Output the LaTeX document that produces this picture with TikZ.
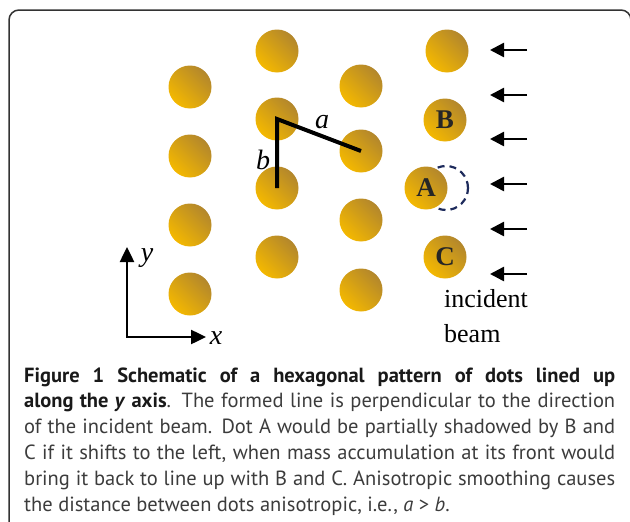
\documentclass[tikz,border=0pt]{standalone}
\usepackage{fontspec}
\setmainfont{Liberation Serif}
\newfontfamily\capfont{PT Sans}
\usetikzlibrary{arrows.meta}
\definecolor{dotlight}{HTML}{F4B800}
\definecolor{dotdark}{HTML}{B3872C}
\definecolor{shadowblue}{HTML}{1E2B5C}
\definecolor{frameline}{HTML}{333333}
\definecolor{captext}{HTML}{3C3C3C}
\begin{document}
\begin{tikzpicture}[x=1pt, y=-1pt,
    dot/.style={circle, minimum size=43pt, inner sep=0pt, top color=dotdark, bottom color=dotlight, shading angle=-45, text=black!85, font=\fontsize{27}{27}\selectfont\bfseries},
    beam/.style={-{Triangle[length=14pt, width=14pt]}, line width=2.5pt},
    lbl/.style={inner sep=0pt, font=\fontsize{28}{28}\selectfont\itshape}]
  \useasboundingbox (0,0) rectangle (630,522);
  \draw[frameline, line width=1.5pt, rounded corners=10pt] (9,540) -- (9,10) -- (631,10) -- (631,540);
  % left three columns of dots
  \node[dot] (c1r1) at (190,87) {};
  \node[dot] (c1r2) at (190,156) {};
  \node[dot] (c1r3) at (190,225) {};
  \node[dot] (c1r4) at (190,294) {};
  \node[dot] (c2r1) at (277,51) {};
  \node[dot] (c2r2) at (277,119) {};
  \node[dot] (c2r3) at (277,188) {};
  \node[dot] (c2r4) at (277,257) {};
  \node[dot] (c3r1) at (361,86) {};
  \node[dot] (c3r2) at (361,151) {};
  \node[dot] (c3r3) at (361,220) {};
  \node[dot] (c3r4) at (361,290) {};
  % front line
  \node[circle, minimum size=44pt, draw=shadowblue, line width=2.2pt, dash pattern=on 7pt off 5pt] (old) at (446,188) {};
  \node[dot] (top) at (447,51) {};
  \node[dot] (B) at (445,120) {B};
  \node[dot] (A) at (426,188) {A};
  \node[dot] (C) at (445,257) {C};
  % distances
  \draw[line width=4pt] (c2r3.center) -- (c2r2.center) -- (c3r2.center);
  \node[lbl] (la) at (322,122) {a};
  \node[lbl] (lb) at (263,160) {b};
  % incident beam
  \foreach \yy [count=\k] in {50,95,139,184,229,274} {
    \coordinate (t\k) at (527,\yy);
    \coordinate (h\k) at (490,\yy);
    \draw[beam] (t\k) -- (h\k);
  }
  \node[anchor=base west, inner sep=0pt, font=\fontsize{26}{26}\selectfont] (inc) at (444,307) {incident};
  \node[anchor=base west, inner sep=0pt, font=\fontsize{26}{26}\selectfont] (bm) at (444,342) {beam};
  % axes
  \coordinate (o) at (127,337);
  \coordinate (ytip) at (127,247);
  \coordinate (xtip) at (206,337);
  \draw[{Triangle[length=15pt, width=14pt]}-{Triangle[length=15pt, width=14pt]}, line width=2.5pt] (ytip) -- (o) -- (xtip);
  \node[lbl] (ly) at (147,258) {y};
  \node[lbl] (lx) at (216,338) {x};
  % caption
  \node[anchor=base west, inner sep=0pt, text width=591pt, align=justify, text=captext, font=\capfont\fontsize{20.5}{25.8}\selectfont] (cap) at (24,382)
    {{\color{black!90}\bfseries Figure 1 Schematic of a hexagonal pattern of dots lined up\linebreak along the \textit{y} axis}. The formed line is perpendicular to the direction\linebreak of the incident beam. Dot A would be partially shadowed by B and\linebreak C if it shifts to the left, when mass accumulation at its front would\linebreak bring it back to line up with B and C. Anisotropic smoothing causes\linebreak the distance between dots anisotropic, i.e., \textit{a} > \textit{b}.};
\end{tikzpicture}
\end{document}
